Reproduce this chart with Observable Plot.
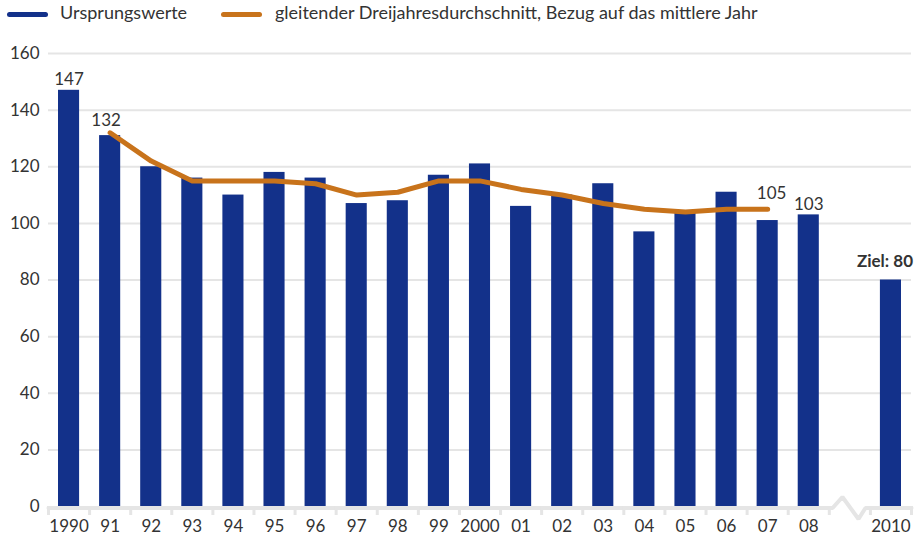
<!DOCTYPE html>
<html>
<head>
<meta charset="utf-8">
<script src="https://cdn.jsdelivr.net/npm/d3@7"></script>
<script src="https://cdn.jsdelivr.net/npm/@observablehq/plot@0.6"></script>
<style>
  html, body { margin: 0; padding: 0; background: #fff; }
  body { width: 916px; height: 541px; overflow: hidden; font-family: Lato, "Noto Sans", sans-serif; color: #333; }
  #legend { position: relative; height: 36px; }
  .sw { position: absolute; top: 12px; width: 41px; height: 5px; border-radius: 3px; }
  .lt { position: absolute; top: 1px; font-size: 18px; line-height: 22px; color: #333; white-space: nowrap; }
  #chart svg { display: block; }
</style>
</head>
<body>
<div id="legend"></div>
<div id="chart"></div>
<script>
// ---- data ----
const years = [1990, 1991, 1992, 1993, 1994, 1995, 1996, 1997, 1998, 1999, 2000, 2001, 2002, 2003, 2004, 2005, 2006, 2007, 2008, 2010];
const values = [147, 131, 120, 116, 110, 118, 116, 107, 108, 117, 121, 106, 110, 114, 97, 104, 111, 101, 103, 80];
const tickLabels = ["1990", "91", "92", "93", "94", "95", "96", "97", "98", "99", "2000", "01", "02", "03", "04", "05", "06", "07", "08", "2010"];
const avgYears = [1991, 1992, 1993, 1994, 1995, 1996, 1997, 1998, 1999, 2000, 2001, 2002, 2003, 2004, 2005, 2006, 2007];
const avgValues = [132, 122, 115, 115, 115, 114, 110, 111, 115, 115, 112, 110, 107, 105, 104, 105, 105];
const gapYear = 2009;
const yTicks = [0, 20, 40, 60, 80, 100, 120, 140, 160];
const seriesNames = ["Ursprungswerte", "gleitender Dreijahresdurchschnitt, Bezug auf das mittlere Jahr"];
const labelYears = [1990, 1991, 2007, 2008, 2010];
const labelValues = [147, 132, 105, 103, 80];
const labelTexts = ["147", "132", "105", "103", "Ziel: 80"];

const navy = "#13318a";
const orange = "#c8731b";
const grid = "#e5e5e5";
const textColor = "#333";

const bars = years.map((y, i) => ({year: y, value: values[i], label: tickLabels[i]}));
const avg = avgYears.map((y, i) => ({year: y, value: avgValues[i]}));
const labelOf = new Map(years.map((y, i) => [y, tickLabels[i]]));
const allYears = d3.range(years[0], years[years.length - 1] + 1);
const bounds = allYears.map(y => y - 0.5).concat([years[years.length - 1] + 0.5]);

// axis baseline with a break mark in the gap slot
const breakShape = [[-0.42, 0], [-0.18, 3.9], [0.21, -3.9], [0.38, 0]];
const axisPath = [{x: bounds[0], y: 0}]
  .concat(breakShape.map(([dx, dy]) => ({x: gapYear + dx, y: dy})))
  .concat([{x: bounds[bounds.length - 1], y: 0}]);

// legend
const legend = document.getElementById("legend");
[[navy, 7, 60], [orange, 221, 275]].forEach(([c, sx, tx], i) => {
  const s = document.createElement("div");
  s.className = "sw"; s.style.left = sx + "px"; s.style.background = c;
  legend.appendChild(s);
  const t = document.createElement("div");
  t.className = "lt"; t.style.left = tx + "px"; t.textContent = seriesNames[i];
  legend.appendChild(t);
});

// label styling offsets (pixels)
const labelStyle = [
  {dx: 0, dy: -5, bold: false},
  {dx: -4, dy: -7, bold: false},
  {dx: 4, dy: -10, bold: false},
  {dx: 0, dy: -5, bold: false},
  {dx: -6, dy: -13, bold: true}
];
const labelMarks = labelYears.map((yr, i) =>
  Plot.text([{year: yr, value: labelValues[i], text: labelTexts[i]}], {
    x: "year", y: "value", text: "text",
    dx: labelStyle[i].dx, dy: labelStyle[i].dy,
    fontSize: 17, fontWeight: labelStyle[i].bold ? "bold" : "normal",
    fill: textColor, lineAnchor: "bottom"
  })
);

const chart = Plot.plot({
  width: 916,
  height: 505,
  marginTop: 17,
  marginBottom: 35,
  marginLeft: 48,
  marginRight: 5,
  style: {fontFamily: "Lato, 'Noto Sans', sans-serif", fontSize: "17px", color: textColor, background: "#fff"},
  x: {type: "linear", domain: [bounds[0], bounds[bounds.length - 1]], axis: null},
  y: {domain: [0, 160], axis: null},
  marks: [
    Plot.ruleY(yTicks.filter(d => d > 0), {stroke: grid, strokeWidth: 2}),
    Plot.axisY(yTicks, {tickSize: 0, tickPadding: 9, fontSize: 17, fill: textColor}),
    Plot.rectY(bars, {x1: d => d.year - 0.5, x2: d => d.year + 0.5, y: "value", fill: navy, insetLeft: 10, insetRight: 10}),
    Plot.line(axisPath, {x: "x", y: "y", stroke: grid, strokeWidth: 4, dy: 1.5, strokeLinejoin: "miter"}),
    Plot.axisX(bounds, {tickSize: 9, tickFormat: () => "", stroke: grid, strokeWidth: 3, tickPadding: 0}),
    Plot.axisX(years, {tickSize: 0, tickPadding: 13, tickFormat: d => labelOf.get(d), fontSize: 17, fill: textColor}),
    Plot.line(avg, {x: "year", y: "value", stroke: orange, strokeWidth: 5, strokeLinecap: "round", strokeLinejoin: "round"}),
    ...labelMarks
  ]
});
document.getElementById("chart").appendChild(chart);
</script>
</body>
</html>
